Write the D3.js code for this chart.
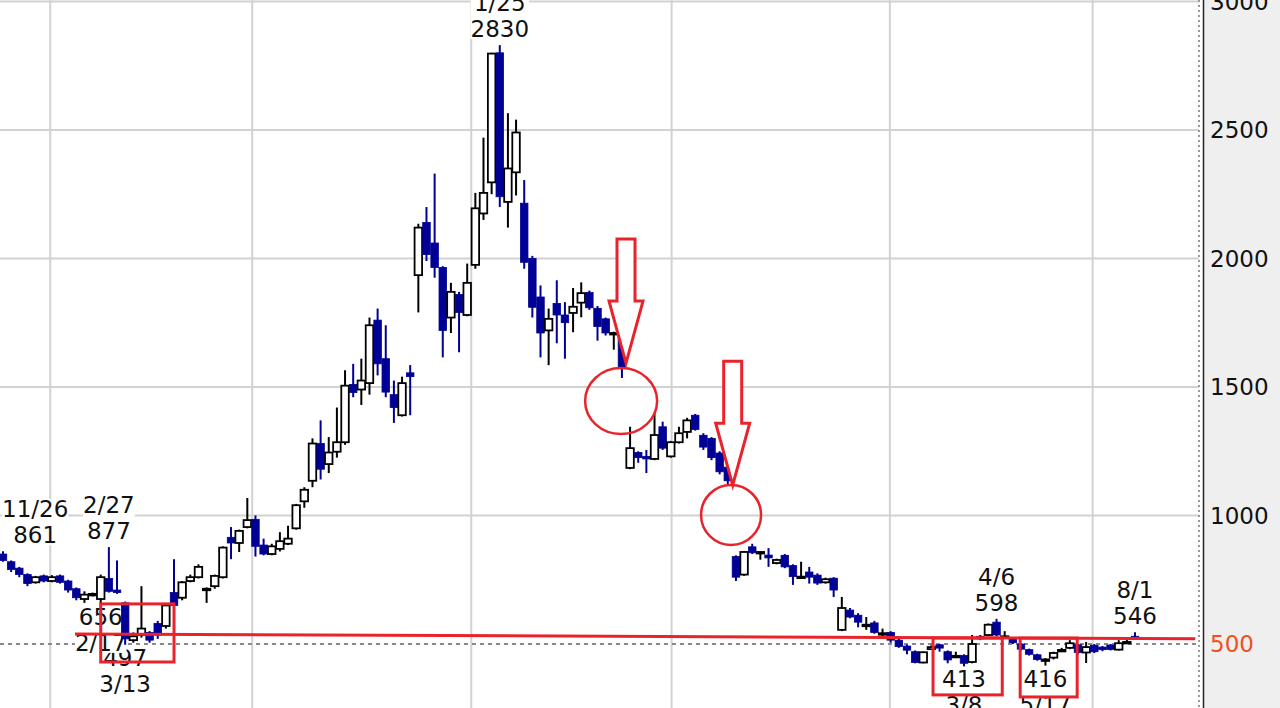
<!DOCTYPE html>
<html lang="ja">
<head>
<meta charset="utf-8">
<style>
  body { margin: 0; background: #fff; }
  svg text { font-family: "DejaVu Sans", Verdana, sans-serif; }
</style>
</head>
<body>
<script src="https://cdn.jsdelivr.net/npm/d3@7/dist/d3.min.js"></script>
<script>
var width = 1280, height = 708;
var plotRight = 1199;

// weekly candles (index 0 = 11/26 week)
var opens = [850,820,795,770,740,765,745,765,745,715,675,690,675,755,710,660,515,535,545,580,
  570,700,680,745,760,712,725,760,915,893,955,985,885,850,870,890,950,1055,1135,1280,
  1200,1248,1285,1510,1490,1515,1760,1610,1470,1390,1555,1935,2140,2060,1965,1770,1860,1780,1975,2175,
  2296,2800,2220,2335,2215,2000,1850,1720,1825,1780,1788,1828,1868,1806,1765,1708,1712,1185,1245,1230,
  1220,1345,1230,1285,1325,1390,1312,1300,1243,1188,840,770,878,855,846,815,845,805,760,780,
  768,740,756,555,632,612,573,582,540,545,515,492,470,428,480,497,470,452,455,430,
  530,535,585,528,520,500,478,458,438,447,475,485,497,467,495,488,496,478,505,530];
var highs = [861,825,800,775,765,770,768,770,750,720,705,700,770,877,825,665,545,725,550,590,
  655,830,745,770,810,720,770,880,955,945,1068,1000,910,890,935,960,1045,1110,1300,1370,
  1305,1420,1565,1590,1610,1770,1805,1740,1525,1540,1585,2135,2200,2330,1970,1905,1870,1980,2255,2470,
  2800,2830,2565,2540,2305,2010,1895,1805,1915,1830,1885,1907,1875,1815,1770,1715,1715,1345,1250,1255,
  1400,1365,1290,1345,1380,1395,1320,1305,1250,1195,845,862,890,860,873,832,850,810,820,800,
  775,758,760,683,640,620,605,590,560,550,520,498,475,470,495,500,475,470,460,535,
  535,580,598,550,525,503,482,462,445,470,485,515,500,508,500,492,500,515,520,546];
var lows = [820,780,760,725,735,740,740,735,700,670,660,685,656,700,695,497,505,525,505,520,
  560,640,670,740,755,660,715,755,830,858,950,840,845,845,860,885,945,1030,1110,1140,
  1165,1225,1275,1460,1430,1470,1545,1460,1360,1385,1390,1790,1990,1925,1615,1710,1635,1775,1960,2150,
  2250,2200,2120,2245,1960,1770,1615,1585,1670,1610,1713,1771,1800,1680,1700,1645,1535,1180,1205,1165,
  1215,1255,1225,1280,1300,1330,1255,1215,1160,1115,745,765,850,828,800,810,795,730,758,735,
  730,735,683,550,600,565,555,540,525,505,485,460,425,425,478,470,425,445,413,425,
  515,530,530,520,500,475,455,435,416,440,470,480,460,426,465,472,475,475,500,518];
var closes = [825,790,770,735,760,745,760,740,710,680,692,695,760,705,700,520,530,560,515,535,
  650,650,740,760,800,715,765,875,893,940,982,880,850,880,900,910,1040,1100,1280,1180,
  1245,1285,1505,1478,1525,1740,1590,1480,1420,1515,1540,2120,2015,1965,1720,1870,1790,1905,2195,2255,
  2797,2240,2350,2490,1985,1810,1710,1765,1780,1750,1812,1865,1808,1735,1710,1710,1575,1262,1225,1220,
  1313,1262,1285,1320,1370,1335,1266,1225,1170,1135,760,858,855,858,835,827,800,762,762,760,
  737,752,710,640,605,585,575,545,542,515,490,476,428,468,488,484,438,454,425,500,
  520,575,535,530,505,480,460,440,440,465,477,503,467,488,470,478,479,503,508,522];

var yTicks = [500, 1000, 1500, 2000, 2500, 3000];
var vGridWeeks = [5.8, 30.6, 57.5, 82.1, 108.9, 133.8];

// highs / lows called out on the chart
var peakDates = ["11/26", "2/27", "1/25", "4/6", "8/1"];
var peakWeeks = [0, 13, 61, 122, 139];
var peakValues = [861, 877, 2830, 598, 546];
var troughDates = ["3/13", "2/17", "3/8", "5/17"];
var troughWeeks = [15, 12, 118, 128];
var troughValues = [497, 656, 413, 416];

// red hand-drawn annotations, in week / price terms
var supportLine = [[8.84, 539], [146.4, 520]];
var boxes = [[12.0, 21.0, 656, 430], [114.2, 122.7, 523, 302], [124.9, 131.9, 523, 294]];
var circles = [[75.9, 1445, 36, 33], [89.4, 1002, 30, 30]];
var arrows = [[76.5, 1593], [89.6, 1118]];

var x = d3.scaleLinear().domain([0, 139]).range([3, 1135]);
var y = d3.scaleLinear().domain([500, 3000]).range([644, 1.4]);

var blue = "#000096", red = "#e8232b";

var svg = d3.select("body").append("svg")
    .attr("width", width)
    .attr("height", height);

svg.append("rect").attr("width", width).attr("height", height).attr("fill", "#fff");

// grid
svg.selectAll(".hgrid")
    .data(yTicks.filter(function (d) { return d !== 500; }))
    .enter().append("line")
    .attr("x1", 0).attr("x2", plotRight)
    .attr("y1", function (d) { return y(d); })
    .attr("y2", function (d) { return y(d); })
    .attr("stroke", "#d2d2d2").attr("stroke-width", 2);

svg.selectAll(".vgrid")
    .data(vGridWeeks)
    .enter().append("line")
    .attr("x1", function (d) { return x(d); })
    .attr("x2", function (d) { return x(d); })
    .attr("y1", 0).attr("y2", height)
    .attr("stroke", "#d2d2d2").attr("stroke-width", 2);

svg.append("line")
    .attr("x1", 0).attr("x2", plotRight)
    .attr("y1", y(500)).attr("y2", y(500))
    .attr("stroke", "#8a8a8a").attr("stroke-width", 2)
    .attr("stroke-dasharray", "4,4");

// labels (white boxes behind text, drawn under the candles)
function addLabel(lines, cx, baseline) {
    var g = svg.append("g");
    var bg = g.append("rect").attr("fill", "#fff");
    var t = g.append("g");
    lines.forEach(function (s, k) {
        t.append("text")
            .attr("x", cx).attr("y", baseline + k * 26)
            .attr("text-anchor", "middle")
            .attr("font-size", 23)
            .attr("fill", "#111")
            .text(s);
    });
    var bb = t.node().getBBox();
    if (bb.x < 2) {
        t.attr("transform", "translate(" + (2 - bb.x) + ",0)");
        bb.x = 2;
    }
    bg.attr("x", bb.x).attr("y", bb.y + 3).attr("width", bb.width).attr("height", bb.height - 6);
}

troughDates.forEach(function (d, k) {
    addLabel([String(troughValues[k]), d], x(troughWeeks[k]), y(troughValues[k]) + 21);
});
peakDates.forEach(function (d, k) {
    addLabel([d, String(peakValues[k])], x(peakWeeks[k]), y(peakValues[k]) - 34);
});

// candles
var idx = d3.range(opens.length);
var candle = svg.selectAll(".candle")
    .data(idx)
    .enter().append("g")
    .attr("class", "candle");

candle.append("line")
    .attr("x1", function (i) { return x(i); })
    .attr("x2", function (i) { return x(i); })
    .attr("y1", function (i) { return y(highs[i]); })
    .attr("y2", function (i) { return y(lows[i]); })
    .attr("stroke", function (i) { return closes[i] >= opens[i] ? "#000" : blue; })
    .attr("stroke-width", 2);

candle.append("rect")
    .attr("x", function (i) { return x(i) - 3.75; })
    .attr("width", 7.5)
    .attr("y", function (i) { return y(Math.max(opens[i], closes[i])); })
    .attr("height", function (i) { return Math.max(1.5, Math.abs(y(opens[i]) - y(closes[i]))); })
    .attr("fill", function (i) { return closes[i] >= opens[i] ? "#fff" : blue; })
    .attr("stroke", function (i) { return closes[i] >= opens[i] ? "#000" : blue; })
    .attr("stroke-width", function (i) { return closes[i] >= opens[i] ? 1.8 : 0.8; });

// right price panel
svg.append("rect").attr("x", 1203).attr("y", 0).attr("width", width - 1203).attr("height", height)
    .attr("fill", "#efefef");
svg.append("line").attr("x1", plotRight).attr("x2", plotRight).attr("y1", 0).attr("y2", height)
    .attr("stroke", "#999").attr("stroke-width", 2).attr("stroke-dasharray", "2,3");
svg.append("line").attr("x1", 1203.5).attr("x2", 1203.5).attr("y1", 0).attr("y2", height)
    .attr("stroke", "#222").attr("stroke-width", 1.5);

svg.selectAll(".ylab")
    .data(yTicks)
    .enter().append("text")
    .attr("x", 1210)
    .attr("y", function (d) { return y(d); })
    .attr("dy", "0.36em")
    .attr("font-size", 23)
    .attr("fill", function (d) { return d === 500 ? "#f0501e" : "#111"; })
    .text(function (d) { return d; });

// red annotations
svg.append("line")
    .attr("x1", x(supportLine[0][0])).attr("y1", y(supportLine[0][1]))
    .attr("x2", x(supportLine[1][0])).attr("y2", y(supportLine[1][1]))
    .attr("stroke", red).attr("stroke-width", 3);

svg.selectAll(".box")
    .data(boxes)
    .enter().append("rect")
    .attr("x", function (d) { return x(d[0]); })
    .attr("y", function (d) { return y(d[2]); })
    .attr("width", function (d) { return x(d[1]) - x(d[0]); })
    .attr("height", function (d) { return y(d[3]) - y(d[2]); })
    .attr("fill", "none").attr("stroke", red).attr("stroke-width", 3);

svg.selectAll(".ring")
    .data(circles)
    .enter().append("ellipse")
    .attr("cx", function (d) { return x(d[0]); })
    .attr("cy", function (d) { return y(d[1]); })
    .attr("rx", function (d) { return d[2]; })
    .attr("ry", function (d) { return d[3]; })
    .attr("fill", "none").attr("stroke", red).attr("stroke-width", 2.5);

svg.selectAll(".arrow")
    .data(arrows)
    .enter().append("path")
    .attr("transform", function (d) { return "translate(" + x(d[0]) + "," + y(d[1]) + ")"; })
    .attr("d", "M0,0 L-17,-62 L-9,-62 L-9,-124 L9,-124 L9,-62 L17,-62 Z")
    .attr("fill", "#fff").attr("stroke", red).attr("stroke-width", 3)
    .attr("stroke-linejoin", "miter");
</script>
</body>
</html>
